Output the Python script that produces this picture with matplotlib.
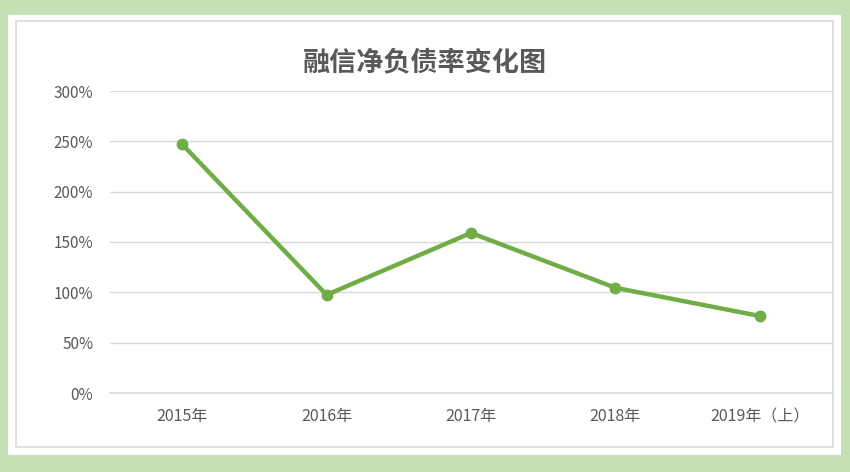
import matplotlib
matplotlib.use("Agg")
import matplotlib.pyplot as plt
from matplotlib.patches import Rectangle
from matplotlib.ticker import FuncFormatter

plt.rcParams["font.family"] = ["Noto Sans CJK SC", "DejaVu Sans"]

# ── Data ──────────────────────────────────────────────────────────────────────
years = ["2015年", "2016年", "2017年", "2018年", "2019年（上）"]
net_debt_ratio = [2.47, 0.975, 1.59, 1.045, 0.765]
y_ticks = [0, 0.5, 1.0, 1.5, 2.0, 2.5, 3.0]

TITLE = "融信净负债率变化图"
LINE_GREEN = "#70ad47"
FRAME_GREEN = "#c5e0b4"
TEXT_GREY = "#595959"
GRID_GREY = "#d9d9d9"

W, H = 850, 472
fig = plt.figure(figsize=(W / 100, H / 100), dpi=100, facecolor=FRAME_GREEN)

# white card and thin grey chart border (pixel coords -> figure fraction)
def px_rect(x0, y0, x1, y1, **kw):
    return Rectangle((x0 / W, 1 - y1 / H), (x1 - x0) / W, (y1 - y0) / H,
                     transform=fig.transFigure, **kw)

fig.patches.append(px_rect(8, 15, 841, 455, facecolor="white", edgecolor="none", zorder=-2))
fig.patches.append(px_rect(16, 21, 833, 447, facecolor="none", edgecolor="#d9d9d9",
                           linewidth=1.2, zorder=-1))

# ── Axes ──────────────────────────────────────────────────────────────────────
ax = fig.add_axes([110 / W, 79 / H, (832 - 110) / W, (393 - 91) / H])
ax.set_facecolor("none")
ax.set_zorder(2)

x = range(len(years))
ax.plot(x, net_debt_ratio, color=LINE_GREEN, linewidth=3.2,
        marker="o", markersize=7.5, solid_capstyle="round", zorder=3)

ax.set_xlim(-0.5, len(years) - 0.5)
ax.set_ylim(0, 3.0)
ax.set_yticks(y_ticks)
ax.yaxis.set_major_formatter(FuncFormatter(lambda v, _: f"{v * 100:.0f}%"))
ax.set_xticks(list(x))
ax.set_xticklabels(years)

ax.grid(axis="y", color=GRID_GREY, linewidth=1)
ax.set_axisbelow(True)
for side in ["top", "right", "left"]:
    ax.spines[side].set_visible(False)
ax.spines["bottom"].set_color(GRID_GREY)
ax.spines["bottom"].set_linewidth(1.2)

ax.tick_params(axis="both", length=0, labelcolor=TEXT_GREY)
ax.tick_params(axis="y", pad=12, labelsize=11)
ax.tick_params(axis="x", pad=11, labelsize=11.5)

fig.text(425 / W, 1 - 62 / H, TITLE, ha="center", va="center",
         fontsize=19.5, fontweight="bold", color=TEXT_GREY)

plt.savefig("out.png", dpi=100, facecolor=fig.get_facecolor())
plt.close()
